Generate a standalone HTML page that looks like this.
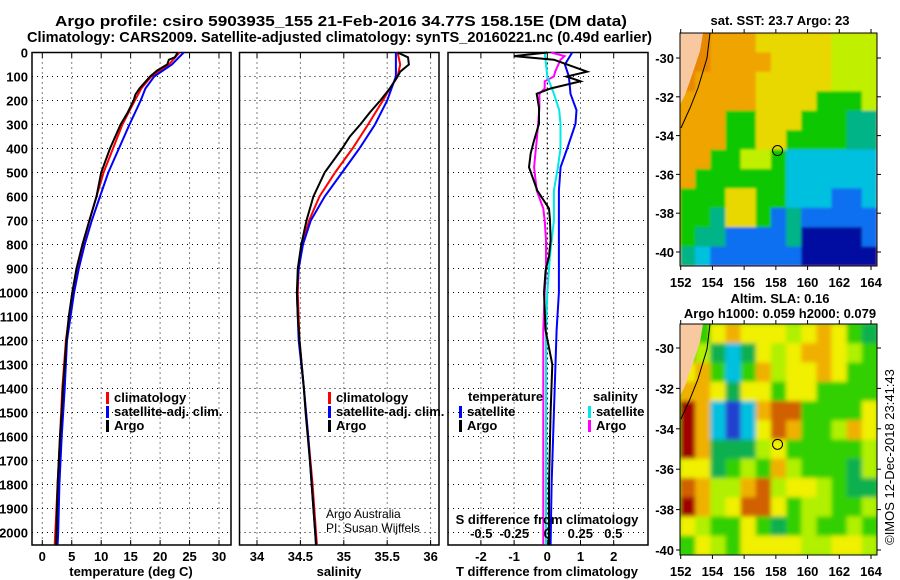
<!DOCTYPE html>
<html><head><meta charset="utf-8"><style>
html,body{margin:0;padding:0;background:#fff;}
svg{display:block;font-family:"Liberation Sans",Arial,sans-serif;}
.t{font-weight:bold;font-size:13px;}
</style></head><body>
<svg id="chart" width="900" height="580" viewBox="0 0 900 580" xmlns="http://www.w3.org/2000/svg">
<defs>
<filter id="blur" x="0" y="0" width="1" height="1"><feGaussianBlur stdDeviation="2"/></filter>
<filter id="blur2" x="0" y="0" width="1" height="1"><feGaussianBlur stdDeviation="1.2"/></filter>
<clipPath id="c1"><rect x="680" y="33" width="197" height="233"/></clipPath>
<clipPath id="c2"><rect x="680" y="324" width="197" height="231"/></clipPath>
</defs>
<text x="55" y="26" textLength="572" lengthAdjust="spacingAndGlyphs" font-size="15" font-weight="bold">Argo profile: csiro 5903935_155 21-Feb-2016 34.77S 158.15E (DM data)</text>
<text x="27" y="42" textLength="625" lengthAdjust="spacingAndGlyphs" font-size="15" font-weight="bold">Climatology: CARS2009. Satellite-adjusted climatology: synTS_20160221.nc (0.49d earlier)</text>
<g id="g"></g>
</svg>
<script>
// ---------- data ----------
const depthTicks=[0,100,200,300,400,500,600,700,800,900,1000,1100,1200,1300,1400,1500,1600,1700,1800,1900,2000];
const tTicks=[0,5,10,15,20,25,30];
const sTicks=[34,34.5,35,35.5,36];
const dTTicks=[-2,-1,0,1,2];
const dSTicks=[-0.5,-0.25,0,0.25,0.5];
const tDepthArgo=[0,20,30,50,75,100,150,175,200,250,300,400,500,600,700,800,900,1000,1100,1200,1300,1400,1500,1600,1700,1800,1900,2000,2050];
const tArgo=[23.0,22.5,21.5,21.2,19.5,18.3,16.5,15.8,15.5,14.5,13.3,11.5,10.0,9.2,8.0,6.8,5.8,5.1,4.5,4.1,3.8,3.5,3.3,3.0,2.8,2.6,2.5,2.4,2.35];
const climDepth=[0,50,100,150,200,300,400,500,600,700,800,900,1000,1200,1400,1600,1800,2000,2050];
const tClim=[23.3,21.5,18.5,16.8,15.7,13.6,12.0,10.4,9.2,8.0,6.9,5.9,5.1,4.0,3.4,3.0,2.6,2.2,2.1];
const tSat=[24.0,22.0,19.0,17.5,16.7,14.8,13.0,11.2,9.8,8.4,7.2,6.2,5.4,4.2,3.8,3.3,2.9,2.7,2.6];
const sDepthArgo=[0,20,50,80,100,150,200,250,300,350,400,500,600,700,800,900,1000,1100,1200,1400,1500,1700,1900,2000,2050];
const sArgo=[35.62,35.74,35.75,35.65,35.62,35.53,35.42,35.30,35.19,35.07,34.98,34.78,34.65,34.57,34.51,34.47,34.46,34.47,34.49,34.54,34.56,34.61,34.65,34.67,34.68];
const sClim=[35.62,35.65,35.62,35.53,35.45,35.28,35.1,34.9,34.72,34.6,34.52,34.48,34.47,34.49,34.54,34.59,34.64,34.68,34.69];
const sSat=[35.6,35.6,35.6,35.55,35.5,35.36,35.18,34.98,34.78,34.62,34.53,34.48,34.46,34.48,34.54,34.59,34.63,34.67,34.68];
const dDepthA=[0,15,30,80,100,120,150,172,230,297,367,420,478,575,650,700,783,850,908,1000,1158,1300,1500,1800,2050];
const dTArgo=[0,-1.0,0.2,1.2,0.58,1.0,0.1,-0.32,-0.25,-0.25,-0.4,-0.5,-0.55,-0.3,0.05,0.08,0.1,0.05,-0.05,-0.1,-0.05,0.15,0.1,0.05,0.05];
const dSArgo=[0.03,0.13,0.1,0.06,0.05,-0.02,-0.02,-0.06,-0.06,-0.07,-0.08,-0.09,-0.1,-0.08,-0.03,-0.02,-0.01,-0.01,-0.01,-0.02,-0.03,-0.03,-0.03,-0.03,-0.03];
const dDepthS=[0,50,100,172,240,297,400,478,575,700,850,1000,1158,1500,1800,2050];
const dTSat=[0.75,0.53,0.65,0.7,0.88,0.85,0.6,0.4,0.35,0.35,0.35,0.35,0.28,0.2,0.13,0.1];
const dSSat=[-0.02,-0.01,0.0,0.05,0.09,0.1,0.1,0.08,0.05,0.05,0.02,0.0,-0.01,-0.01,-0.01,-0.01];
const latTicks=[-30,-32,-34,-36,-38,-40];
const lonTicks=[152,154,156,158,160,162,164];
const sstGrid=["RROOOYYYYYLLL","RROOOOYYYYLLL","ROOOOYYYYYLLL","OOOOOYYYYGGGL","OOOGGYYYGGGTT","OOOGGYYGGGGTT","OOGGLLGCCCCCC","OGGGGGGCCCCCC","GGGYYGGCCCBBC","GGTYYGBTBBBBB","GTTBBBBTDDDDB","TCBBBBBBDDDDD"];
const slaGrid=["GGYOYYYLYOYGT","GLTCTYLYOOYLG","YOGCGOLYYOYGG","OOYTYYGYYGGGG","MOCBCORRGGGGY","MOCBCYROGGLOY","MOTTTLYGGGGGL","YYTGLGOLGGGTL","ROLLORLYYLGTT","MOLYRRYGLLGGL","YLGGYGTGLGGLG","GYLGYYYYLLYYL"];
// ---------- helpers ----------
const NS="http://www.w3.org/2000/svg";const G=document.getElementById('g');
function mk(t,a,p){const e=document.createElementNS(NS,t);for(const k in a)e.setAttribute(k,a[k]);(p||G).appendChild(e);return e;}
function txt(x,y,s,a,p){const e=mk('text',Object.assign({x:x,y:y},a||{}),p);e.textContent=s;return e;}
const yD=d=>52.5+0.24*d;const Y0=52.5,Y1=545;
const xT=v=>42.3+5.89*v, xS=v=>257+86.8*(v-34), xdT=v=>547.3+33.2*v, xdS=v=>547.3+132*v;
function panel(x0,x1,ticks,xf,name,lab,showDepth){
  const p=mk('g',{});
  
  
  for(const d of depthTicks){if(d===0)continue;mk('line',{x1:x0,x2:x1,y1:yD(d),y2:yD(d),stroke:'#000','stroke-dasharray':'1,4'},p);}
  for(const t of ticks){const x=xf(t);mk('line',{x1:x,x2:x,y1:Y0,y2:Y1,stroke:'#000','stroke-dasharray':'1,4'},p);
    mk('line',{x1:x,x2:x,y1:Y0,y2:Y0+5,stroke:'#000'},p);mk('line',{x1:x,x2:x,y1:Y1,y2:Y1-5,stroke:'#000'},p);
    if(lab){const e=txt(x,561,String(t),{'text-anchor':'middle',class:'t'},p);
      
      }}
  mk('rect',{x:x0,y:Y0,width:x1-x0,height:Y1-Y0,fill:'none',stroke:'#000','stroke-width':1.5},p);
  if(showDepth)for(const d of depthTicks){const e=txt(28,yD(d)+5,String(d),{'text-anchor':'end',class:'t'},p);
    
    }
  return p;}
function line(ds,vs,xf,col,name,p){let s='';for(let i=0;i<ds.length;i++){s+=(i?'L':'M')+xf(vs[i]).toFixed(1)+','+yD(ds[i]).toFixed(1);}
  const e=mk('path',{d:s,fill:'none',stroke:col,'stroke-width':2},p);
  
  }
function leg(x,y,col,label,p){mk('rect',{x:x,y:y-10,width:3,height:12,fill:col},p);const e=txt(x+8,y,label,{class:'t'},p);
  
  }
// Panel 1
const p1=panel(32,231,tTicks,xT,'temperature-panel',true,true);
line(climDepth,tClim,xT,'#ff0000','temperature-climatology-line',p1);
line(climDepth,tSat,xT,'#0000ff','temperature-satellite-line',p1);
line(tDepthArgo,tArgo,xT,'#000','temperature-argo-line',p1);
leg(106,402,'#ff0000','climatology',p1);leg(106,416,'#0000ff','satellite-adj. clim.',p1);leg(106,430,'#000','Argo',p1);
txt(131,576,'temperature (deg C)',{'text-anchor':'middle',class:'t',},p1);
// Panel 2
const p2=panel(239.5,439,sTicks,xS,'salinity-panel',true,false);
line(climDepth,sClim,xS,'#ff0000','salinity-climatology-line',p2);
line(climDepth,sSat,xS,'#0000ff','salinity-satellite-line',p2);
line(sDepthArgo,sArgo,xS,'#000','salinity-argo-line',p2);
leg(328,402,'#ff0000','climatology',p2);leg(328,416,'#0000ff','satellite-adj. clim.',p2);leg(328,430,'#000','Argo',p2);
txt(326,518,'Argo Australia',{'font-size':12,},p2);
txt(326,532,'PI: Susan Wijffels',{'font-size':12,},p2);
txt(339,576,'salinity',{'text-anchor':'middle',class:'t',},p2);
// Panel 3
const p3=panel(448,648,dTTicks,xdT,'difference-panel',true,false);
mk('line',{x1:547.3,x2:547.3,y1:Y0,y2:Y1,stroke:'#000','stroke-dasharray':'2,3'},p3);
line(dDepthA,dSArgo,xdS,'#ff00ff','salinity-diff-argo-line',p3);
line(dDepthS,dSSat,xdS,'#00e8e8','salinity-diff-satellite-line',p3);
line(dDepthS,dTSat,xdT,'#0000ff','temperature-diff-satellite-line',p3);
line(dDepthA,dTArgo,xdT,'#000','temperature-diff-argo-line',p3);
txt(468,401,'temperature',{class:'t'},p3);txt(593,401,'salinity',{class:'t'},p3);
leg(459,416,'#0000ff','satellite',p3);leg(459,430,'#000','Argo',p3);
leg(588,416,'#00e8e8','satellite',p3);leg(588,430,'#ff00ff','Argo',p3);
txt(547,524,'S difference from climatology',{'text-anchor':'middle',class:'t'},p3);
for(const s of dSTicks){const e=txt(xdS(s),538,String(s),{'text-anchor':'middle',class:'t'},p3);
  
  }
txt(547,576,'T difference from climatology',{'text-anchor':'middle',class:'t',},p3);
// Maps
const sstCol={R:'#e88800',O:'#f0a400',Y:'#e8d800',L:'#c0f000',G:'#10c800',T:'#00b488',C:'#00c0e0',B:'#1070f0',D:'#0010a0'};
const slaCol={G:'#30d000',Y:'#f0f000',L:'#b0f000',O:'#f0b000',R:'#d06000',M:'#a00000',T:'#10b050',C:'#00c0e0',B:'#2040d0'};
function map(y0,y1,grid,cols,name,latY,clip,filt){
  const p=mk('g',{});
  
  
  const x0=680,x1=877,cw=(x1-x0)/13,rh=(y1-y0)/12;
  const cg=mk('g',{'clip-path':'url(#'+clip+')'},p);
  const fg=mk('g',{filter:'url(#'+filt+')'},cg);
  mk('rect',{x:x0-10,y:y0-10,width:x1-x0+20,height:y1-y0+20,fill:cols[grid[0][0]]},fg);
  grid.forEach((r,i)=>{for(let j=0;j<13;j++){mk('rect',{x:x0+j*cw,y:y0+i*rh,width:cw+0.6,height:rh+0.6,fill:cols[r[j]]},fg);}});
  mk('path',{d:`M680,${y0} L703,${y0} L700,${y0+18} L692,${y0+42} L685,${y0+62} L680,${y0+72} Z`,fill:'#f8c8a0'},cg);
  mk('path',{d:`M710,${y0} L707,${y0+25} L698,${y0+55} L690,${y0+75} L681,${y0+95}`,fill:'none',stroke:'#000'},cg);
  mk('circle',{cx:680+15.86*(158.15-152),cy:latY(-34.77),r:5,fill:'none',stroke:'#000'},p);
  mk('rect',{x:x0,y:y0,width:x1-x0,height:y1-y0,fill:'none',stroke:'#000'},p);
  for(const l of latTicks){const e=txt(674,latY(l)+5,String(l),{'text-anchor':'end',class:'t'},p);
    
    
    mk('line',{x1:x1,x2:x1+4,y1:latY(l),y2:latY(l),stroke:'#000'},p);mk('line',{x1:x0-4,x2:x0,y1:latY(l),y2:latY(l),stroke:'#000'},p);}
  for(const l of lonTicks){const x=680.7+15.86*(l-152);mk('line',{x1:x,x2:x,y1:y0-4,y2:y0,stroke:'#000'},p);mk('line',{x1:x,x2:x,y1:y1,y2:y1+4,stroke:'#000'},p);
    const e=txt(x,y1+21,String(l),{'text-anchor':'middle',class:'t'},p);
    
    }
  return p;}
map(33,266,sstGrid,sstCol,'sst-map',l=>58+19.4*(-30-l),'c1','blur2');
map(324,555,slaGrid,slaCol,'sla-map',l=>348+20.2*(-30-l),'c2','blur');
txt(780,25,'sat. SST: 23.7 Argo: 23',{'text-anchor':'middle',class:'t',});
txt(780,303,'Altim. SLA: 0.16',{'text-anchor':'middle',class:'t',});
txt(780,318,'Argo h1000: 0.059 h2000: 0.079',{'text-anchor':'middle',class:'t',});
txt(0,0,'©IMOS 12-Dec-2018 23:41:43',{transform:'translate(894,457) rotate(-90)','text-anchor':'middle','font-size':13,});
</script>
</body></html>
